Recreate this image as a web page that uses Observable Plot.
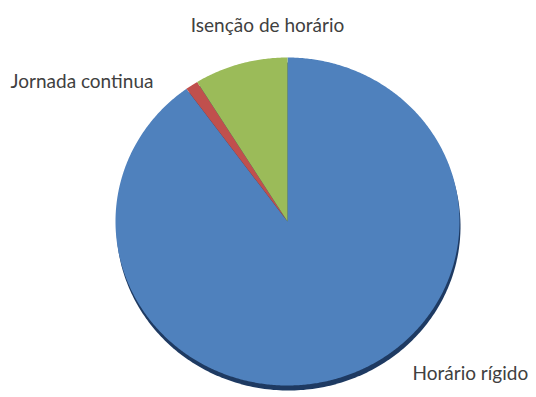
<!DOCTYPE html>
<html>
<head>
<meta charset="utf-8">
<script src="https://cdn.jsdelivr.net/npm/d3@7"></script>
<script src="https://cdn.jsdelivr.net/npm/@observablehq/plot@0.6"></script>
<style>
  html, body { margin: 0; padding: 0; background: #ffffff; }
  svg { display: block; }
</style>
</head>
<body>
<div id="chart"></div>
<script>
// Data (percent shares)
const categories = ["Horário rígido", "Jornada continua", "Isenção de horário"];
const values = [90.0, 1.2, 8.8];
const colors = ["#4f81bd", "#c0504d", "#9bbb59"];

// Build slice polygons from d3.pie angles (0 at top, clockwise)
const arcs = d3.pie().sort(null).value(d => d.value)(
  categories.map((name, i) => ({name, value: values[i]}))
);
const pts = [];
for (const a of arcs) {
  const n = Math.max(2, Math.ceil((a.endAngle - a.startAngle) / (Math.PI / 360)));
  pts.push({name: a.data.name, x: 0, y: 0});
  for (let k = 0; k <= n; k++) {
    const t = a.startAngle + (a.endAngle - a.startAngle) * k / n;
    pts.push({name: a.data.name, x: Math.sin(t), y: Math.cos(t)});
  }
}
const full = d3.range(0, 361).map(d => ({x: Math.sin(d * Math.PI / 180), y: Math.cos(d * Math.PI / 180)}));

const font = "Lato, 'Open Sans', sans-serif";
const fs = 19;
const chart = Plot.plot({
  width: 536,
  height: 397,
  marginLeft: 115,
  marginRight: 77,
  marginTop: 57,
  marginBottom: 12,
  x: {domain: [-1, 1], axis: null},
  y: {domain: [-1, 1], axis: null},
  color: {domain: categories, range: colors},
  style: {background: "#ffffff", fontFamily: font, overflow: "visible"},
  marks: [
    Plot.line(full, {x: "x", y: "y", fill: "#1e3a62", stroke: "none", dy: 5, dx: 1}),
    Plot.line(pts, {x: "x", y: "y", z: "name", fill: "name", stroke: "none"}),
    Plot.text([categories[2]], {x: -0.116, y: 1.19, text: d => d, fontSize: fs, fill: "#404040", textAnchor: "middle"}),
    Plot.text([categories[1]], {x: -1.61, y: 0.854, text: d => d, fontSize: fs, fill: "#404040", textAnchor: "start"}),
    Plot.text([categories[0]], {x: 0.727, y: -0.927, text: d => d, fontSize: fs, fill: "#404040", textAnchor: "start"})
  ]
});
document.getElementById("chart").appendChild(chart);
</script>
</body>
</html>
